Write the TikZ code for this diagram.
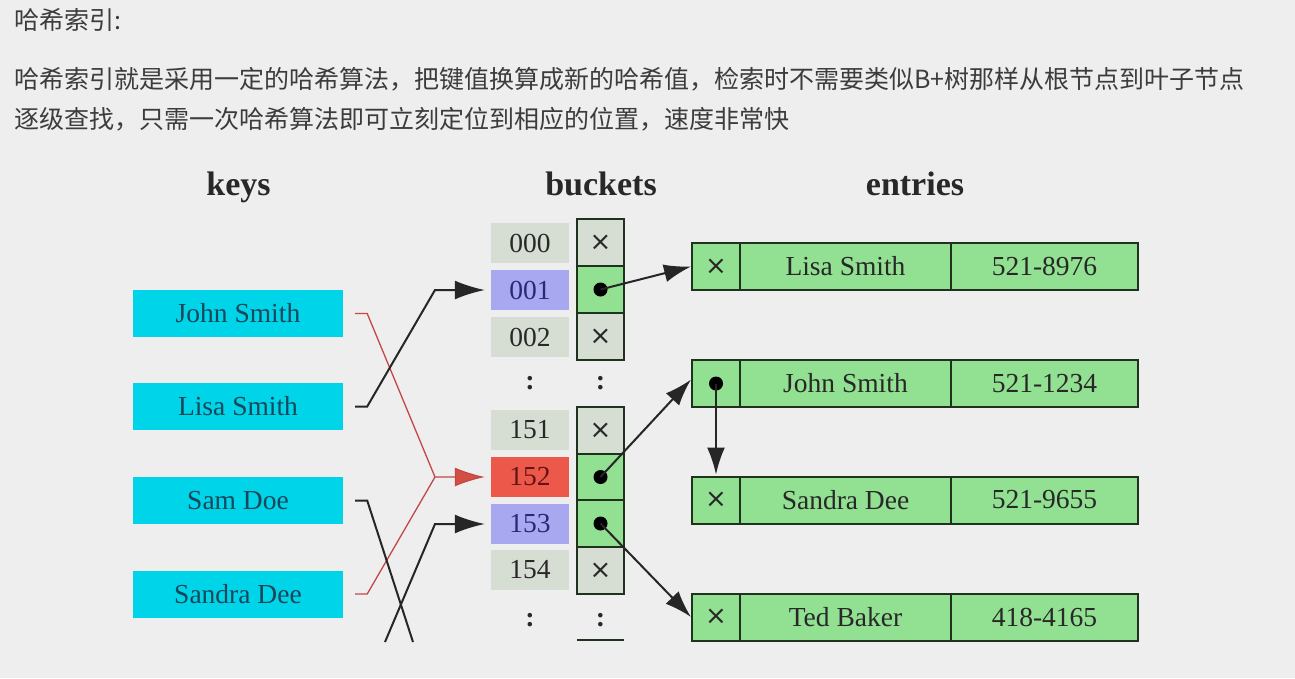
\documentclass[tikz,border=0pt]{standalone}
\usepackage{fontspec}
\setmainfont{Liberation Serif}
\newfontfamily\cjk{Noto Sans CJK SC}
\newfontfamily\dejavu{DejaVu Sans}
\usetikzlibrary{arrows.meta}
\definecolor{bg}{RGB}{238,238,238}
\definecolor{keycyan}{RGB}{0,212,232}
\definecolor{keytext}{RGB}{25,70,90}
\definecolor{cellgray}{RGB}{214,222,212}
\definecolor{cellblue}{RGB}{168,168,240}
\definecolor{cellred}{RGB}{236,88,74}
\definecolor{cellgreen}{RGB}{146,224,146}
\definecolor{boxline}{RGB}{30,50,30}
\definecolor{redline}{RGB}{196,70,70}
\definecolor{cjktext}{RGB}{60,60,60}
\definecolor{bluetext}{RGB}{40,40,120}
\definecolor{redtext}{RGB}{100,20,20}
\definecolor{darktext}{RGB}{40,40,40}
\begin{document}
\begin{tikzpicture}[x=1pt,y=-1pt,
  cjkline/.style={anchor=base west, inner sep=0, font=\cjk\fontsize{25}{25}\selectfont, text=cjktext},
  header/.style={anchor=base, inner sep=0, font=\fontsize{34}{34}\selectfont\bfseries, text=darktext},
  keybox/.style={fill=keycyan, minimum width=210pt, minimum height=47pt, inner sep=0, font=\fontsize{27.5}{27.5}\selectfont, text=keytext},
  lbl/.style={fill=cellgray, minimum width=78pt, minimum height=40pt, inner sep=0, font=\fontsize{27.5}{27.5}\selectfont, text=darktext},
  ptr/.style={draw=boxline, line width=2pt, fill=cellgray, minimum width=47pt, minimum height=47pt, inner sep=0, font=\dejavu\fontsize{26}{26}\selectfont, text=darktext},
  ptrg/.style={ptr, fill=cellgreen},
  ecell/.style={draw=boxline, line width=2pt, fill=cellgreen, minimum height=47pt, inner sep=0, font=\fontsize{27.5}{27.5}\selectfont, text=darktext},
  ex/.style={ecell, minimum width=48pt, font=\dejavu\fontsize{26}{26}\selectfont},
  en/.style={ecell, minimum width=211pt},
  ep/.style={ecell, minimum width=187pt},
  dot/.style={circle, fill=black, minimum size=14pt, inner sep=0},
  vdots/.style={inner sep=0, font=\fontsize{28}{28}\selectfont\bfseries, text=darktext},
  blk/.style={draw=black!85, line width=2pt},
  arr/.style={blk, -{Latex[length=30pt,width=19pt]}},
  earr/.style={blk, -{Latex[length=27pt,width=18pt]}},
  redl/.style={draw=redline, line width=1.3pt},
  rarr/.style={redl, -{Latex[length=30pt,width=19pt,fill=cellred!90!black]}}
]
\fill[bg] (0,0) rectangle (1295,678);
\useasboundingbox (0,0) rectangle (1295,678);

% header text
\node[cjkline] (t0) at (14,29) {哈希索引:};
\node[cjkline] (t1) at (14,88) {哈希索引就是采用一定的哈希算法，把键值换算成新的哈希值，检索时不需要类似B+树那样从根节点到叶子节点};
\node[cjkline] (t2) at (14,128) {逐级查找，只需一次哈希算法即可立刻定位到相应的位置，速度非常快};

% column headers
\node[header] (hk) at (238.5,195) {keys};
\node[header] (hb) at (601,195) {buckets};
\node[header] (he) at (915,195) {entries};

% keys
\node[keybox] (k1) at (238,313.5) {John Smith};
\node[keybox] (k2) at (238,406.5) {Lisa Smith};
\node[keybox] (k3) at (238,500.5) {Sam Doe};
\node[keybox] (k4) at (238,594) {Sandra Dee};

% bucket labels
\node[lbl] (b000) at (530,243) {000};
\node[lbl, fill=cellblue, text=bluetext] (b001) at (530,290) {001};
\node[lbl] (b002) at (530,337) {002};
\node[vdots] (v1) at (530,383) {:};
\node[lbl] (b151) at (530,430) {151};
\node[lbl, fill=cellred, text=redtext] (b152) at (530,477) {152};
\node[lbl, fill=cellblue, text=bluetext] (b153) at (530,524) {153};
\node[lbl] (b154) at (530,570) {154};
\node[vdots] (v2) at (530,620) {:};

% pointer cells
\node[ptr] (p000) at (600.5,242.5) {×};
\node[ptrg] (p001) at (600.5,289.5) {};
\node[ptr] (p002) at (600.5,336.5) {×};
\node[vdots] (v3) at (600.5,383) {:};
\node[ptr] (p151) at (600.5,430.5) {×};
\node[ptrg] (p152) at (600.5,477) {};
\node[ptrg] (p153) at (600.5,523.5) {};
\node[ptr] (p154) at (600.5,570.5) {×};
\node[vdots] (v4) at (600.5,620) {:};
\draw[draw=boxline, line width=2pt] (577,640) -- (624,640);

\node[dot] (d001) at (p001) {};
\node[dot] (d152) at (p152) {};
\node[dot] (d153) at (p153) {};

% entries
\node[ex] (e1x) at (716,266.5) {×};
\node[en] (e1n) at (845.5,266.5) {Lisa Smith};
\node[ep] (e1p) at (1044.5,266.5) {521-8976};

\node[ex] (e2x) at (716,383.5) {};
\node[en] (e2n) at (845.5,383.5) {John Smith};
\node[ep] (e2p) at (1044.5,383.5) {521-1234};
\node[dot] (d2) at (e2x) {};

\node[ex] (e3x) at (716,500) {×};
\node[en] (e3n) at (845.5,500) {Sandra Dee};
\node[ep] (e3p) at (1044.5,500) {521-9655};

\node[ex] (e4x) at (716,617) {×};
\node[en] (e4n) at (845.5,617) {Ted Baker};
\node[ep] (e4p) at (1044.5,617) {418-4165};

% pointer arrows
\draw[earr] (d001.center) -- (e1x.west);
\draw[earr] (d152.center) -- ([yshift=4pt]e2x.west);
\draw[earr] (d153.center) -- (e4x.west);
\draw[earr, shorten >=1pt] (d2.center) -- (e3x.north);

% key -> bucket connectors
\coordinate (jr) at (435,477);
\coordinate (jl) at (435,290);
\coordinate (j153) at (435,524);
\coordinate (samend) at (413,642);
\coordinate (s153) at (385,642);

\draw[redl] ([xshift=12pt]k4.east) -- ++(12,0) -- (jr);
\draw[rarr, shorten >=6pt] ([xshift=12pt]k1.east) -- ++(12,0) -- (jr) -- (b152.west);
\draw[arr, shorten >=6pt] ([xshift=12pt]k2.east) -- ++(12,0) -- (jl) -- (b001.west);
\draw[blk] ([xshift=12pt]k3.east) -- ++(12,0) -- (samend);
\draw[arr, shorten >=6pt] (s153) -- (j153) -- (b153.west);
\end{tikzpicture}
\end{document}
